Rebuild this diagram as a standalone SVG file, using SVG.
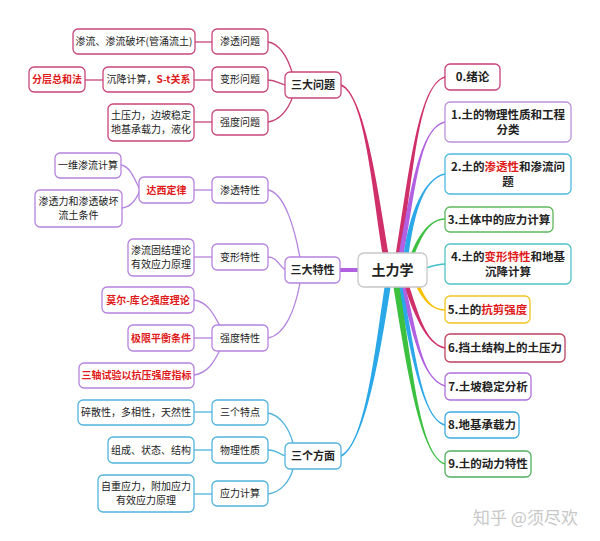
<svg xmlns="http://www.w3.org/2000/svg" width="600" height="541" viewBox="0 0 600 541">
<style>
.box{fill:#fff;stroke-width:1.3}
.r{stroke:#c8457a}.p{stroke:#b583de}.b{stroke:#52b4dd}
.t{font-family:"Noto Sans CJK SC","Noto Sans",sans-serif;font-size:10px;fill:#222;text-anchor:middle}
.red{fill:#e01b1b;font-weight:bold}
.rt{font-size:11.5px;font-weight:bold}
.hub{font-size:11px;font-weight:bold}
.thin{fill:none;stroke-width:1.3}
</style>
<rect width="600" height="541" fill="#fff"/>
<g id="connectors">
  <path d="M383,256 C372,190 365,96 341,86 L341,84 C365,94 378,190 389,256 Z" fill="#d0306a"/>
  <path d="M385,284 C375,350 365,444 341,455 L341,457 C365,446 381,350 391,284 Z" fill="#2aa8e8"/>
  <path d="M339,270 L360,270" stroke="#b060e0" stroke-width="4" fill="none"/>
  <path d="M395.5,256 C409.5,170 418,84.2 445,76.2 L445,77.8 C418,85.8 414.5,170 400.5,256 Z" fill="#d0306a"/>
  <path d="M398.5,256 C411.5,185 420,127.2 445,121.2 L445,122.8 C420,128.8 416.5,185 403.5,256 Z" fill="#b060e0"/>
  <path d="M403.5,256 C409.5,210 425,177.2 445,173.2 L445,174.8 C425,178.8 414.5,210 408.5,256 Z" fill="#2aa8e8"/>
  <path d="M410,256 C418,235 430,218.2 445,218.2 L445,219.8 C430,219.8 422,235 414,256 Z" fill="#3cc040"/>
  <path d="M426,268 C435,265 440,264 446,264" stroke="#40c0c8" stroke-width="1.5" fill="none"/>
  <path d="M415,284 C422,300 432,310.8 445,310.8 L445,309.2 C432,309.2 426,300 419,284 Z" fill="#f8c000"/>
  <path d="M403.5,284 C412.5,310 425,344.8 445,348.8 L445,347.2 C425,343.2 417.5,310 408.5,284 Z" fill="#d0306a"/>
  <path d="M399.5,284 C412.5,330 420,378.8 445,386.8 L445,385.2 C420,377.2 417.5,330 404.5,284 Z" fill="#b060e0"/>
  <path d="M396.5,284 C409.5,340 420,418.8 445,425.8 L445,424.2 C420,417.2 414.5,340 401.5,284 Z" fill="#2aa8e8"/>
  <path d="M393,284 C407,370 420,455.8 445,464.8 L445,463.2 C420,454.2 413,370 399,284 Z" fill="#3cc040"/>
  <g class="thin r">
    <path d="M268,42 C280,44 288,58 293,75"/>
    <path d="M268,80 C276,80 280,84 286,85"/>
    <path d="M268,122 C280,120 288,110 293,96"/>
    <path d="M195,42 L212,42"/>
    <path d="M194,80 L212,80"/>
    <path d="M85,80 L103,80"/>
    <path d="M194,122 L212,122"/>
  </g>
  <g class="thin p">
    <path d="M268,190 C285,193 295,230 300,258"/>
    <path d="M268,257 C278,257 280,268 286,270"/>
    <path d="M268,338 C285,335 295,310 300,283"/>
    <path d="M121,165 C130,166 135,180 140,190"/>
    <path d="M122,208 C132,207 137,198 140,190"/>
    <path d="M194,190 L212,190"/>
    <path d="M194,257 L212,257"/>
    <path d="M194,300 C208,302 214,315 220,326"/>
    <path d="M194,338 L212,338"/>
    <path d="M194,375 C208,373 214,362 220,350"/>
  </g>
  <g class="thin b">
    <path d="M268,413 C280,415 289,428 293,443"/>
    <path d="M268,450 C277,450 280,455 286,456"/>
    <path d="M268,494 C282,492 290,480 293,469"/>
    <path d="M194,412 L212,412"/>
    <path d="M194,450 L212,450"/>
    <path d="M194,494 L212,494"/>
  </g>
</g>

<g id="root"><rect class="box" x="358" y="253" width="69" height="34" rx="6" stroke="#c8c8c8"/><text class="t" x="392.5" y="275" style="font-size:14px;font-weight:bold">土力学</text></g>

<g id="hub1"><rect class="box r" x="285" y="72" width="56" height="26" rx="5"/><text class="t hub" x="313" y="89">三大问题</text></g>
<g id="hub2"><rect class="box p" x="285" y="257" width="55" height="26" rx="5"/><text class="t hub" x="312.5" y="274">三大特性</text></g>
<g id="hub3"><rect class="box b" x="285" y="443" width="56" height="26" rx="5"/><text class="t hub" x="313" y="460">三个方面</text></g>

<g id="stwt"><rect class="box r" x="212" y="29" width="56" height="25" rx="5"/><text class="t" x="240" y="45">渗透问题</text></g>
<g id="bxwt"><rect class="box r" x="212" y="67" width="56" height="25" rx="5"/><text class="t" x="240" y="83">变形问题</text></g>
<g id="qdwt"><rect class="box r" x="212" y="110" width="56" height="25" rx="5"/><text class="t" x="240" y="126">强度问题</text></g>
<g id="sl"><rect class="box r" x="73" y="29" width="122" height="25" rx="5"/><text class="t" x="134" y="45">渗流、渗流破坏(管涌流土)</text></g>
<g id="cj"><rect class="box r" x="103" y="67" width="91" height="25" rx="5"/><text class="t" x="148.5" y="83">沉降计算，<tspan class="red">S-t关系</tspan></text></g>
<g id="fc"><rect class="box r" x="29" y="67" width="56" height="25" rx="5"/><text class="t red" x="57" y="83">分层总和法</text></g>
<g id="ty"><rect class="box r" x="108" y="104" width="86" height="37" rx="5"/><text class="t" x="151" y="119.3">土压力，边坡稳定</text><text class="t" x="151" y="133">地基承载力，液化</text></g>

<g id="sttx"><rect class="box p" x="212" y="177" width="56" height="26" rx="5"/><text class="t" x="240" y="193.5">渗透特性</text></g>
<g id="dx"><rect class="box p" x="139" y="177" width="55" height="26" rx="5"/><text class="t red" x="166.5" y="193.5">达西定律</text></g>
<g id="yw"><rect class="box p" x="55" y="153" width="66" height="25" rx="5"/><text class="t" x="88" y="169">一维渗流计算</text></g>
<g id="stl"><rect class="box p" x="35" y="190" width="87" height="37" rx="5"/><text class="t" x="78.5" y="205.3">渗透力和渗透破坏</text><text class="t" x="78.5" y="219">流土条件</text></g>
<g id="bxtx"><rect class="box p" x="212" y="244" width="56" height="26" rx="5"/><text class="t" x="240" y="260.5">变形特性</text></g>
<g id="gj"><rect class="box p" x="128" y="239" width="66" height="37" rx="5"/><text class="t" x="161" y="254.3">渗流固结理论</text><text class="t" x="161" y="268">有效应力原理</text></g>
<g id="qdtx"><rect class="box p" x="212" y="325" width="56" height="26" rx="5"/><text class="t" x="240" y="341.5">强度特性</text></g>
<g id="mc"><rect class="box p" x="102" y="287" width="92" height="26" rx="5"/><text class="t red" x="148" y="303.5">莫尔-库仑强度理论</text></g>
<g id="jx"><rect class="box p" x="128" y="325" width="66" height="26" rx="5"/><text class="t red" x="161" y="341.5">极限平衡条件</text></g>
<g id="sz"><rect class="box p" x="79" y="363" width="115" height="25" rx="5"/><text class="t red" x="136.5" y="379">三轴试验以抗压强度指标</text></g>

<g id="sgtd"><rect class="box b" x="212" y="400" width="56" height="25" rx="5"/><text class="t" x="240" y="416">三个特点</text></g>
<g id="ss"><rect class="box b" x="78" y="400" width="116" height="25" rx="5"/><text class="t" x="136" y="416">碎散性，多相性，天然性</text></g>
<g id="wlxz"><rect class="box b" x="212" y="437" width="56" height="26" rx="5"/><text class="t" x="240" y="453.5">物理性质</text></g>
<g id="zc"><rect class="box b" x="108" y="437" width="86" height="26" rx="5"/><text class="t" x="151" y="453.5">组成、状态、结构</text></g>
<g id="yljs"><rect class="box b" x="212" y="481" width="56" height="25" rx="5"/><text class="t" x="240" y="497">应力计算</text></g>
<g id="zz"><rect class="box b" x="98" y="475" width="96" height="37" rx="5"/><text class="t" x="146" y="490.3">自重应力，附加应力</text><text class="t" x="146" y="504">有效应力原理</text></g>

<g id="c0"><rect class="box" x="445" y="64" width="55" height="26" rx="5" stroke="#c8407a"/><text class="t rt" x="472.5" y="81">0.绪论</text></g>
<g id="c1"><rect class="box" x="445" y="102" width="126" height="40" rx="5" stroke="#bb92da"/><text class="t rt" x="508" y="119">1.土的物理性质和工程</text><text class="t rt" x="508" y="133.5">分类</text></g>
<g id="c2"><rect class="box" x="445" y="154" width="126" height="40" rx="5" stroke="#4bbbe0"/><text class="t rt" x="508" y="171">2.土的<tspan fill="#e01b1b">渗透性</tspan>和渗流问</text><text class="t rt" x="508" y="185.5">题</text></g>
<g id="c3"><rect class="box" x="445" y="207" width="108" height="25" rx="5" stroke="#5cb85c"/><text class="t rt" x="499" y="223.5">3.土体中的应力计算</text></g>
<g id="c4"><rect class="box" x="445" y="244" width="126" height="40" rx="5" stroke="#4fc4c8"/><text class="t rt" x="508" y="261">4.土的<tspan fill="#e01b1b">变形特性</tspan>和地基</text><text class="t rt" x="508" y="275.5">沉降计算</text></g>
<g id="c5"><rect class="box" x="445" y="296" width="85" height="27" rx="5" stroke="#f0c420"/><text class="t rt" x="487.5" y="313.5">5.土的<tspan fill="#e01b1b">抗剪强度</tspan></text></g>
<g id="c6"><rect class="box" x="445" y="334" width="120" height="28" rx="5" stroke="#c0405e"/><text class="t rt" x="505" y="352">6.挡土结构上的土压力</text></g>
<g id="c7"><rect class="box" x="445" y="373" width="86" height="27" rx="5" stroke="#b070d8"/><text class="t rt" x="488" y="390.5">7.土坡稳定分析</text></g>
<g id="c8"><rect class="box" x="445" y="412" width="74" height="26" rx="5" stroke="#3cace0"/><text class="t rt" x="482" y="429">8.地基承载力</text></g>
<g id="c9"><rect class="box" x="445" y="451" width="86" height="26" rx="5" stroke="#50b060"/><text class="t rt" x="488" y="468">9.土的动力特性</text></g>

<text x="473" y="524" style="font-family:'Noto Sans CJK SC',sans-serif;font-size:17px;fill:#c8c8c8">知乎 @须尽欢</text>
</svg>
